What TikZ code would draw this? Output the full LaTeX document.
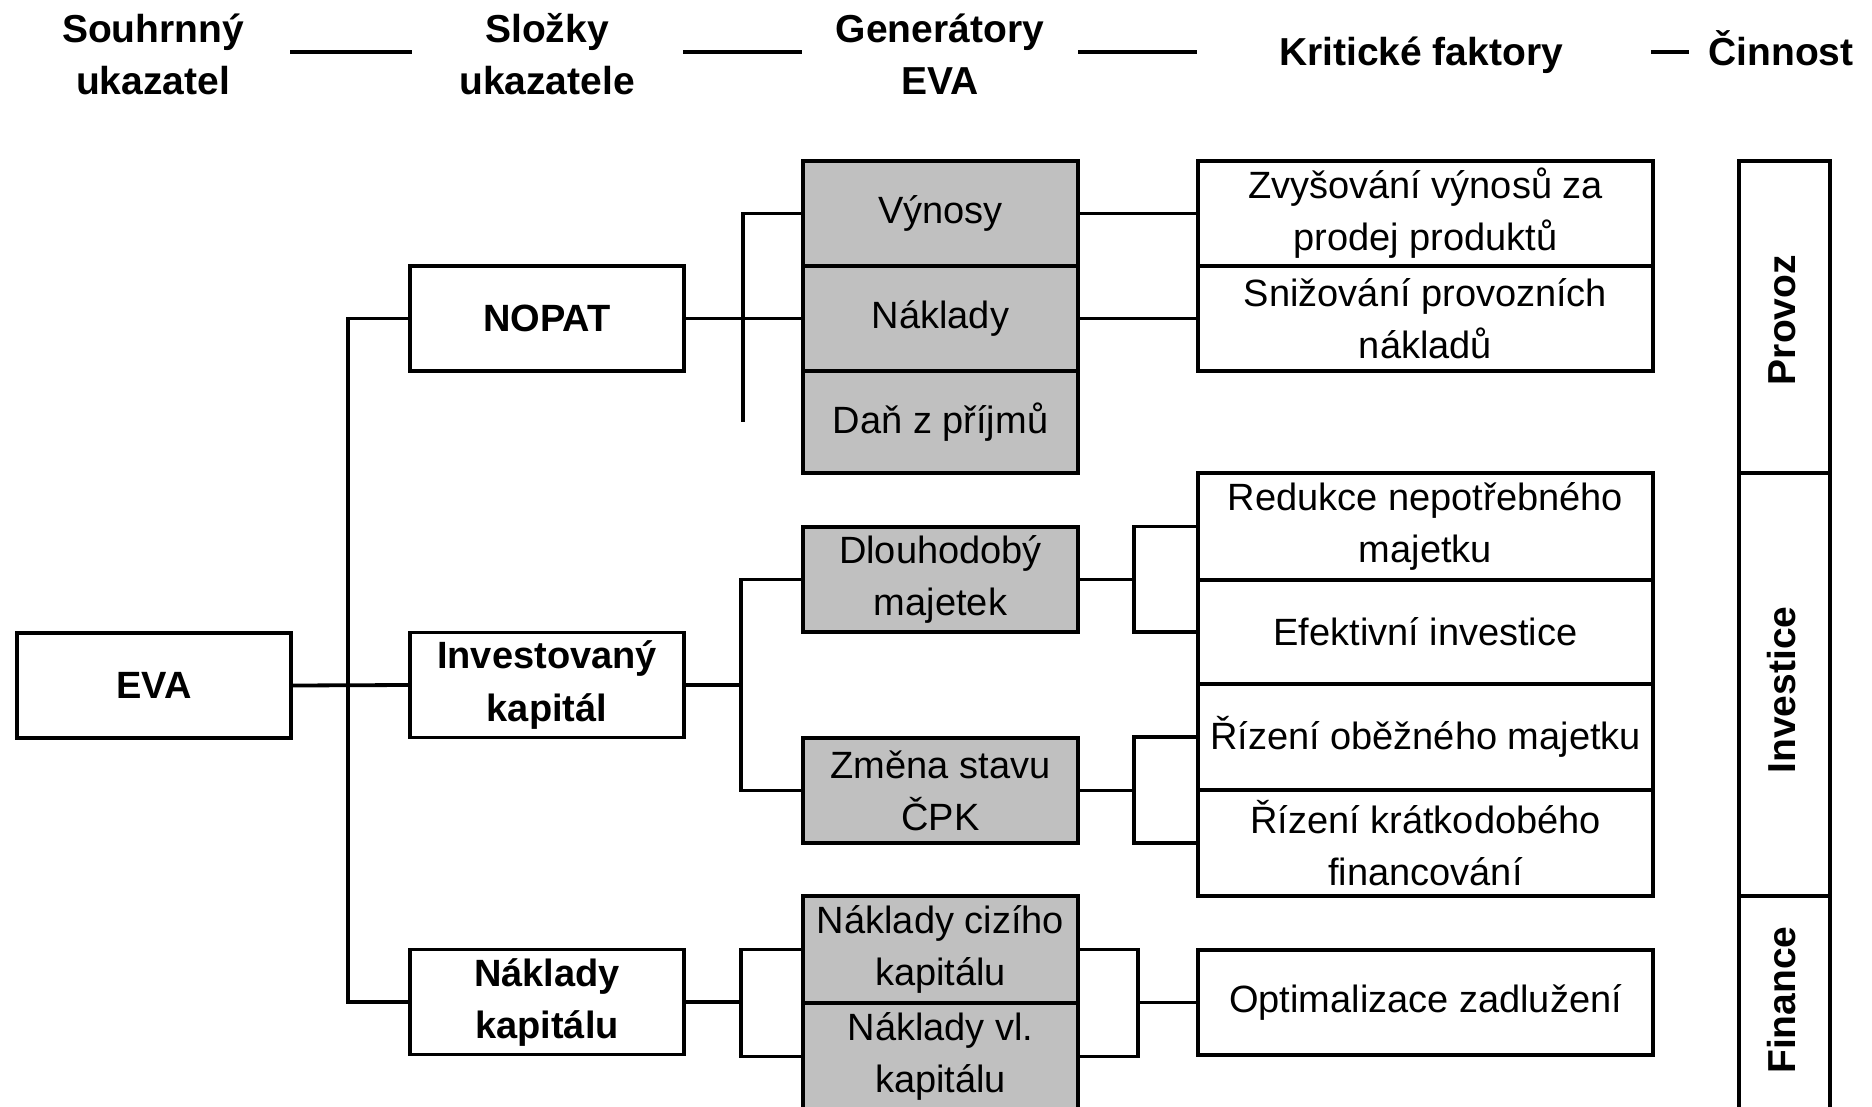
\documentclass[tikz,border=0pt]{standalone}
\usepackage{fontspec}
\setmainfont{Liberation Sans}
\definecolor{gen}{HTML}{C0C0C0}
\begin{document}
\begin{tikzpicture}[x=0.5pt,y=-0.5pt,
 base/.style={draw, line width=1.8pt, inner sep=0pt, align=center, font=\fontsize{19}{26}\selectfont},
 boldbox/.style={base, font=\fontsize{19}{26}\selectfont\bfseries, minimum width=137pt, minimum height=52.5pt},
 genbox/.style={base, fill=gen, minimum width=137.5pt, minimum height=52.5pt},
 kfbox/.style={base, minimum width=227.5pt, minimum height=52.5pt},
 actbox/.style={draw, line width=1.8pt, minimum width=45.5pt, inner sep=0pt},
 actlabel/.style={rotate=90, inner sep=0pt, font=\fontsize{19.5}{24}\selectfont\bfseries},
 head/.style={align=center, inner sep=0pt, font=\fontsize{19.5}{26}\selectfont\bfseries},
 conn/.style={line width=1.9pt}]
\clip (0,0) rectangle (1872,1107);
\fill[white] (0,0) rectangle (1872,1107);
% header
\node[head] (h1) at (153,54) {Souhrnný\\ukazatel};
\node[head] (h2) at (547,54) {Složky\\ukazatele};
\node[head] (h3) at (940,54) {Generátory\\EVA};
\node[head, anchor=base] (h4) at (1421,66) {Kritické faktory};
\node[head, anchor=base] (h5) at (1781,66) {Činnost};
\coordinate (l1a) at (290,52); \coordinate (l1b) at (412,52);
\coordinate (l2a) at (683,52); \coordinate (l2b) at (802,52);
\coordinate (l3a) at (1078,52); \coordinate (l3b) at (1197,52);
\coordinate (l4a) at (1651,52); \coordinate (l4b) at (1689,52);
\draw[conn] (l1a) -- (l1b);
\draw[conn] (l2a) -- (l2b);
\draw[conn] (l3a) -- (l3b);
\draw[conn] (l4a) -- (l4b);
% column 1 and 2
\node[boldbox] (eva) at (154,685.5) {EVA};
\node[boldbox] (nopat) at (547,318.5) {NOPAT};
\node[boldbox] (inv) at (547,685) {Investovaný\\kapitál};
\node[boldbox] (nk) at (547,1002) {Náklady\\kapitálu};
% generators
\node[genbox] (vyn) at (940.5,213.5) {Výnosy};
\node[genbox] (nak) at (940.5,318.5) {Náklady};
\node[genbox, minimum height=51pt] (dan) at (940.5,422) {Daň z příjmů};
\node[genbox] (dlm) at (940.5,579.5) {Dlouhodobý\\majetek};
\node[genbox] (cpk) at (940.5,790.5) {Změna stavu\\ČPK};
\node[genbox, minimum height=53.5pt] (nck) at (940.5,949.5) {Náklady cizího\\kapitálu};
\node[genbox, minimum height=53.5pt] (nvk) at (940.5,1056.5) {Náklady vl.\\kapitálu};
% critical factors
\node[kfbox] (zvy) at (1425.5,213.5) {Zvyšování výnosů za\\prodej produktů};
\node[kfbox] (sni) at (1425.5,318.5) {Snižování provozních\\nákladů};
\node[kfbox, minimum height=53.5pt] (red) at (1425.5,526.5) {Redukce nepotřebného\\majetku};
\node[kfbox, minimum height=52pt] (efe) at (1425.5,632) {Efektivní investice};
\node[kfbox, minimum height=53pt] (rob) at (1425.5,737) {Řízení oběžného majetku};
\node[kfbox, minimum height=53pt] (rkf) at (1425.5,843) {Řízení krátkodobého\\financování};
\node[kfbox] (opt) at (1425.5,1002.5) {Optimalizace zadlužení};
% activities
\node[actbox, minimum height=156pt] (prov) at (1784.5,317) {};
\node[actbox, minimum height=211.5pt] (inve) at (1784.5,684.5) {};
\node[actbox, minimum height=115pt] (fin) at (1784.5,1011) {};
\node[actlabel] (lprov) at (1782,320) {Provoz};
\node[actlabel] (linve) at (1782,690) {Investice};
\node[actlabel] (lfin) at (1782,1000) {Finance};
% connectors
\draw[conn] (eva.east) -- (inv.west);
\draw[conn] (nopat.west) -- ++(-60,0) |- (nk.west);
\draw[conn] (nopat.east) -- (nak.west);
\coordinate (danbus) at (743,422);
\draw[conn] (vyn.west) -| (danbus);
\draw[conn] (inv.east) -- ++(56,0);
\draw[conn] (dlm.west) -- ++(-60,0) |- (cpk.west);
\draw[conn] (nk.east) -- ++(56,0);
\draw[conn] (nck.west) -- ++(-60,0) |- (nvk.west);
\draw[conn] (vyn.east) -- (zvy.west);
\draw[conn] (nak.east) -- (sni.west);
\draw[conn] (dlm.east) -- ++(55,0);
\draw[conn] (red.west) -- ++(-62,0) |- (efe.west);
\draw[conn] (cpk.east) -- ++(55,0);
\draw[conn] (rob.west) -- ++(-62,0) |- (rkf.west);
\draw[conn] (nck.east) -- ++(58,0) |- (nvk.east);
\draw[conn] (opt.west) -- ++(-59,0);
\end{tikzpicture}
\end{document}
